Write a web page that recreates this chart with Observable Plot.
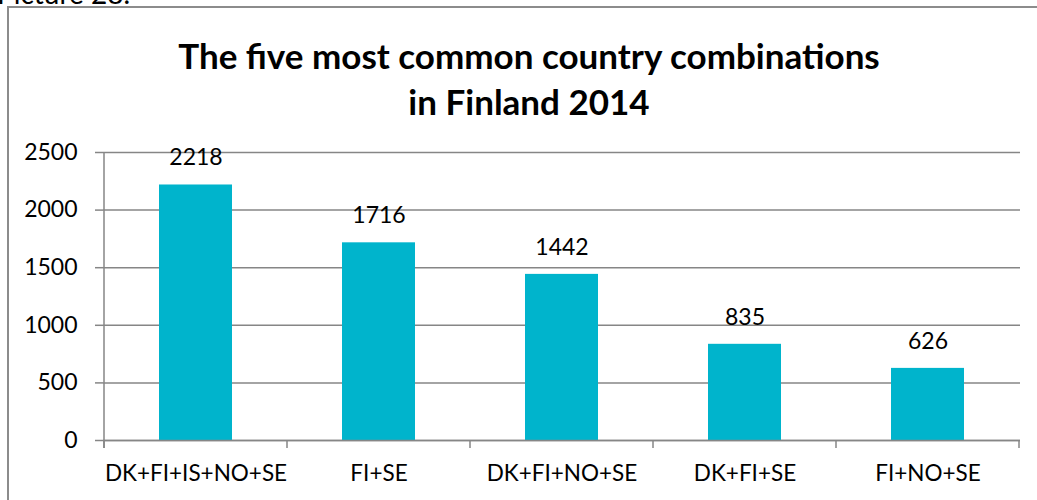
<!DOCTYPE html>
<html>
<head>
<meta charset="utf-8">
<script src="https://cdn.jsdelivr.net/npm/d3@7"></script>
<script src="https://cdn.jsdelivr.net/npm/@observablehq/plot@0.6"></script>
<style>
  html, body { margin: 0; padding: 0; background: #fff; }
  #wrap { position: relative; width: 1037px; height: 500px; overflow: hidden; font-family: Lato, "DejaVu Sans", sans-serif; }
  #caption { position: absolute; left: -3px; top: -21px; font-size: 28px; line-height: 28px; color: #000; white-space: nowrap; }
  #frame { position: absolute; left: 7px; top: 6px; width: 1200px; height: 700px; border-left: 2px solid #8c8c8c; border-top: 2px solid #8c8c8c; }
  #title { position: relative; height: 130px; width: 1058px; box-sizing: border-box; padding-top: 32px; text-align: center; font-weight: 700; font-size: 35px; line-height: 46px; color: #000; }
  #chart { position: relative; }
</style>
</head>
<body>
<div id="wrap">
  <div id="caption">Picture 28.</div>
  <div id="frame"></div>
  <div id="title">The five most common country combinations<br>in Finland 2014</div>
  <div id="chart"></div>
</div>
<script>
const categories = ["DK+FI+IS+NO+SE", "FI+SE", "DK+FI+NO+SE", "DK+FI+SE", "FI+NO+SE"];
const values = [2218, 1716, 1442, 835, 626];
const yTicks = [0, 500, 1000, 1500, 2000, 2500];

const data = categories.map((c, i) => ({category: c, value: values[i]}));

const axisColor = "#868686";

function categoryTicks(index, scales, vals, dimensions) {
  const x = scales.x;
  const g = d3.create("svg:g");
  const step = x.step();
  const bw = x.bandwidth();
  const y0 = dimensions.height - dimensions.marginBottom;
  const yTop = dimensions.marginTop;
  const bounds = [];
  categories.forEach((c, i) => {
    const center = x(c) + bw / 2;
    if (i === 0) bounds.push(center - step / 2);
    bounds.push(center + step / 2);
  });
  g.append("line")
    .attr("x1", bounds[0]).attr("x2", bounds[0])
    .attr("y1", yTop).attr("y2", y0 + 8)
    .attr("stroke", axisColor).attr("stroke-width", 1.5);
  bounds.forEach(b => {
    g.append("line")
      .attr("x1", b).attr("x2", b)
      .attr("y1", y0).attr("y2", y0 + 8)
      .attr("stroke", axisColor).attr("stroke-width", 1.5);
  });
  return g.node();
}

const chart = Plot.plot({
  width: 1037,
  height: 370,
  marginTop: 22,
  marginBottom: 60,
  marginLeft: 103,
  marginRight: 17,
  style: {fontFamily: "Lato, 'DejaVu Sans', sans-serif", fontSize: "23px", background: "transparent", color: "#000"},
  x: {domain: categories, paddingInner: 0.6, paddingOuter: 0.3, label: null},
  y: {domain: [0, 2500], label: null},
  marks: [
    Plot.gridY(yTicks, {stroke: axisColor, strokeOpacity: 1, strokeWidth: 1.5}),
    Plot.barY(data, {x: "category", y: "value", fill: "#00B4CC"}),
    Plot.ruleY([0], {stroke: axisColor, strokeWidth: 1.5}),
    Plot.axisY(yTicks, {tickSize: 8, tickPadding: 18, stroke: axisColor, strokeWidth: 1.5, fontSize: 23, label: null, tickFormat: d => String(d)}),
    Plot.axisX({tickSize: 0, tickPadding: 25, fontSize: 22.5, label: null}),
    Plot.text(data, {x: "category", y: "value", text: d => String(d.value), dy: -27, fontSize: 23, fill: "#000"}),
    categoryTicks
  ]
});

document.getElementById("chart").appendChild(chart);
</script>
</body>
</html>
